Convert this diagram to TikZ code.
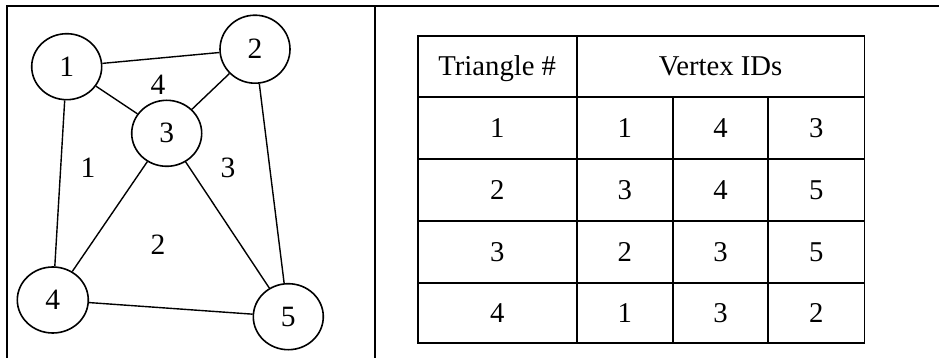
\documentclass[tikz,border=0pt]{standalone}
\usepackage{fontspec}
\setmainfont{Liberation Serif}
\usetikzlibrary{shapes.geometric}
\begin{document}
\begin{tikzpicture}[x=1pt,y=-1pt,
  vertex/.style={draw,ellipse,line width=1.6pt,minimum width=70pt,minimum height=66pt,inner sep=0pt,font=\fontsize{29.5}{34}\selectfont},
  edge/.style={line width=1.4pt},
  tlabel/.style={font=\fontsize{29.5}{34}\selectfont,inner sep=0pt},
  cell/.style={font=\fontsize{28.7}{34}\selectfont,inner sep=0pt,anchor=base},
  frame/.style={line width=1.9pt},
  gridline/.style={line width=1.9pt}]
\useasboundingbox (0,0) rectangle (939,358);
% frame
\coordinate (tl) at (7.3,5.7);
\coordinate (tr) at (939,5.7);
\coordinate (bl) at (7.3,358);
\coordinate (mt) at (375.3,5.7);
\coordinate (mb) at (375.3,358);
\draw[frame] (tr) -- (tl) -- (bl);
\draw[frame] (mt) -- (mb);
% graph
\node[vertex] (v1) at (66.7,66.7) {\raisebox{-4pt}{1}};
\node[vertex,minimum height=68pt] (v2) at (255,49.2) {\raisebox{-2pt}{2}};
\node[vertex] (v3) at (166.7,133.3) {\raisebox{-5pt}{3}};
\node[vertex,minimum width=71pt] (v4) at (52.8,300) {4};
\node[vertex] (v5) at (288.3,316.7) {5};
\draw[edge] (v1) -- (v2);
\draw[edge] (v1) -- (v3);
\draw[edge] (v2) -- (v3);
\draw[edge] (v1) -- (v4);
\draw[edge] (v3) -- (v4);
\draw[edge] (v3) -- (v5);
\draw[edge] (v2) -- (v5);
\draw[edge] (v4) -- (v5);
\node[tlabel] (t4) at (158,85) {4};
\node[tlabel] (t1) at (88,168) {1};
\node[tlabel] (t3) at (228,168) {3};
\node[tlabel] (t2) at (158,245) {2};
% table
\draw[gridline] (417.7,35.7) rectangle (864.5,343.3);
\draw[gridline] (576.7,35.7) -- (576.7,343.3);
\draw[gridline] (672.7,96.7) -- (672.7,343.3);
\draw[gridline] (768.3,96.7) -- (768.3,343.3);
\foreach \yy in {96.7,159,220.7,282.7}
  \draw[gridline] (417.7,\yy) -- (864.5,\yy);
\node[cell] (h1) at (497.2,75.9) {Triangle \#};
\node[cell] (h2) at (720.6,75.9) {Vertex IDs};
\node[cell] (r1a) at (497.2,137.5) {1};
\node[cell] (r1b) at (624.7,137.5) {1};
\node[cell] (r1c) at (720.5,137.5) {4};
\node[cell] (r1d) at (816.4,137.5) {3};
\node[cell] (r2a) at (497.2,199.5) {2};
\node[cell] (r2b) at (624.7,199.5) {3};
\node[cell] (r2c) at (720.5,199.5) {4};
\node[cell] (r2d) at (816.4,199.5) {5};
\node[cell] (r3a) at (497.2,261.4) {3};
\node[cell] (r3b) at (624.7,261.4) {2};
\node[cell] (r3c) at (720.5,261.4) {3};
\node[cell] (r3d) at (816.4,261.4) {5};
\node[cell] (r4a) at (497.2,322.7) {4};
\node[cell] (r4b) at (624.7,322.7) {1};
\node[cell] (r4c) at (720.5,322.7) {3};
\node[cell] (r4d) at (816.4,322.7) {2};
\end{tikzpicture}
\end{document}
